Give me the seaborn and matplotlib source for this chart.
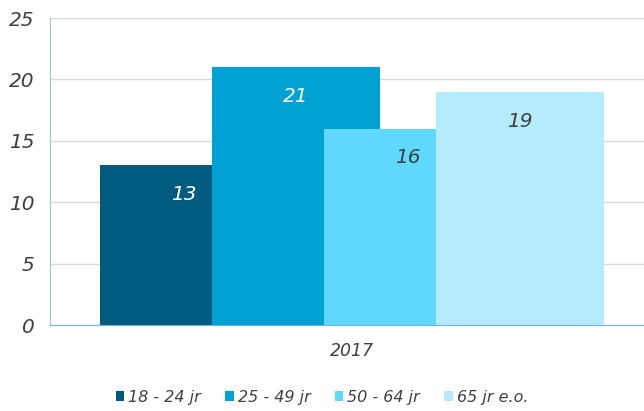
import matplotlib
matplotlib.use("Agg")
import matplotlib.pyplot as plt
import numpy as np
import pandas as pd
import seaborn as sns

# %%
year = "2017"
groups = ["18 - 24 jr", "25 - 49 jr", "50 - 64 jr", "65 jr e.o."]
values = [13, 21, 16, 19]
colors = ["#005C7E", "#00A2D3", "#5FD9FF", "#B5ECFC"]
label_colors = ["white", "white", "#404040", "#404040"]

df = pd.DataFrame({"group": groups, "value": values, "pos": np.arange(len(groups))})

# %%
sns.set_style("white")
plt.rcParams["font.family"] = ["DejaVu Sans"]
fig = plt.figure(figsize=(6.44, 4.11), dpi=100)
ax = fig.add_axes([50 / 644, 86 / 411, 594 / 644, 307 / 411])

sns.barplot(
    data=df, x="pos", y="value", hue="group", hue_order=groups,
    palette=colors, native_scale=True, dodge=False, width=1.5,
    saturation=1, ax=ax, legend=True, linewidth=0,
)

for p, v, c in zip(df["pos"], df["value"], label_colors):
    ax.text(p, v - 2.4, str(v), ha="center", va="center", color=c,
            fontsize=14.5, style="italic")

ax.set_ylim(0, 25)
ax.set_yticks(range(0, 26, 5))
ax.set_xlim(-1.2, 4.11)
ax.set_xticks([1.5])
ax.set_xticklabels([year], fontsize=12.5, style="italic", color="#404040")
ax.tick_params(axis="y", labelsize=14.5, length=0, pad=11, labelcolor="#404040")
ax.tick_params(axis="x", length=0, pad=12)
for t in ax.get_yticklabels():
    t.set_style("italic")
ax.set_xlabel("")
ax.set_ylabel("")
ax.yaxis.grid(True, color="#D9D9D9", linewidth=1)
ax.set_axisbelow(True)
for s in ["top", "right"]:
    ax.spines[s].set_visible(False)
ax.spines["left"].set_color("#9DC3E6")
ax.spines["bottom"].set_color("#6FAEE8")
ax.spines["bottom"].set_zorder(5)

ax.legend(
    loc="center", bbox_to_anchor=(0.5, 14 / 411), bbox_transform=fig.transFigure,
    ncol=4, frameon=False,
    prop={"size": 11.5, "style": "italic"}, handlelength=0.55, handleheight=0.55,
    handletextpad=0.25, columnspacing=1.5, labelcolor="#404040",
)

fig.savefig("out.png", dpi=100)
